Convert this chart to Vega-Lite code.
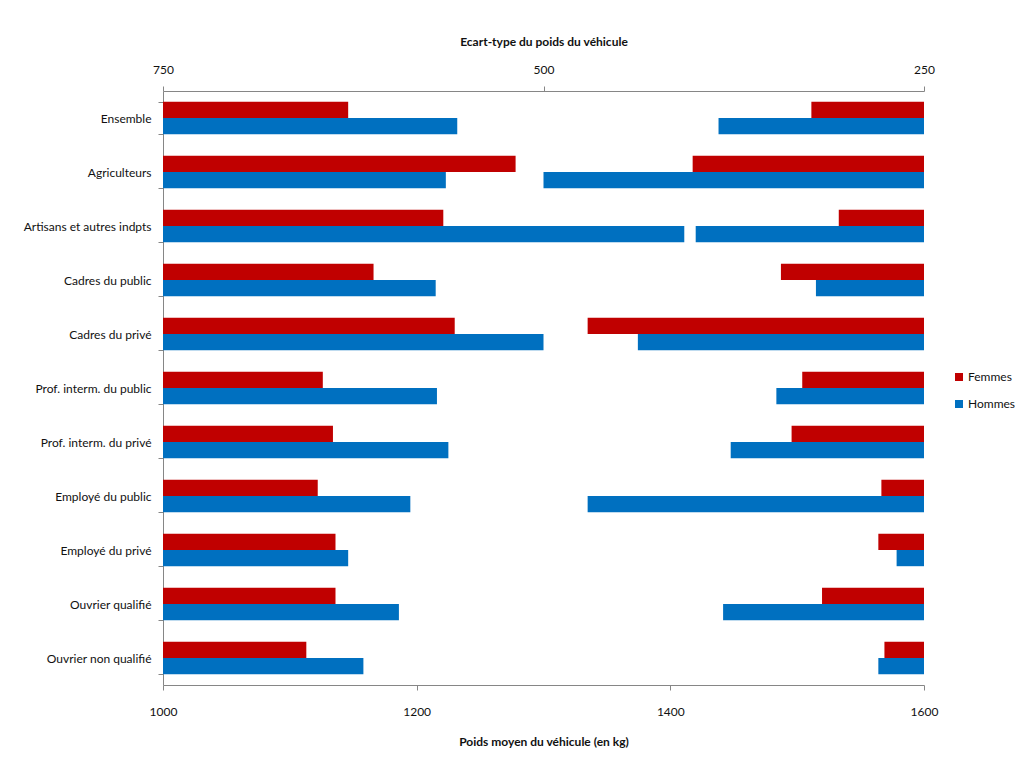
{
  "$schema": "https://vega.github.io/schema/vega-lite/v6.json",
  "width": 761,
  "height": 594,
  "autosize": {"type": "none"},
  "padding": {"left": 163, "top": 91, "right": 91, "bottom": 75},
  "background": "white",
  "config": {
    "view": {"stroke": null},
    "font": "Lato",
    "axis": {
      "domainColor": "#868686",
      "tickColor": "#868686",
      "tickSize": 5,
      "labelColor": "#111111",
      "labelFontSize": 12,
      "labelFont": "Lato",
      "titleFont": "Lato",
      "titleFontSize": 12,
      "titleFontWeight": "bold",
      "titleColor": "#111111",
      "labelFlush": false,
      "labelOverlap": false,
      "labelBound": false,
      "grid": false
    },
    "legend": {"labelFont": "Lato"}
  },
  "data": {
    "values": [
      {"categorie": "Ensemble", "sexe": "Femmes", "moyenne": 1146, "ecart": 324},
      {"categorie": "Ensemble", "sexe": "Hommes", "moyenne": 1232, "ecart": 385},
      {"categorie": "Agriculteurs", "sexe": "Femmes", "moyenne": 1278, "ecart": 402},
      {"categorie": "Agriculteurs", "sexe": "Hommes", "moyenne": 1223, "ecart": 500},
      {"categorie": "Artisans et autres indpts", "sexe": "Femmes", "moyenne": 1221, "ecart": 306},
      {"categorie": "Artisans et autres indpts", "sexe": "Hommes", "moyenne": 1411, "ecart": 400},
      {"categorie": "Cadres du public", "sexe": "Femmes", "moyenne": 1166, "ecart": 344},
      {"categorie": "Cadres du public", "sexe": "Hommes", "moyenne": 1215, "ecart": 321},
      {"categorie": "Cadres du privé", "sexe": "Femmes", "moyenne": 1230, "ecart": 471},
      {"categorie": "Cadres du privé", "sexe": "Hommes", "moyenne": 1300, "ecart": 438},
      {"categorie": "Prof. interm. du public", "sexe": "Femmes", "moyenne": 1126, "ecart": 330},
      {"categorie": "Prof. interm. du public", "sexe": "Hommes", "moyenne": 1216, "ecart": 347},
      {"categorie": "Prof. interm. du privé", "sexe": "Femmes", "moyenne": 1134, "ecart": 337},
      {"categorie": "Prof. interm. du privé", "sexe": "Hommes", "moyenne": 1225, "ecart": 377},
      {"categorie": "Employé du public", "sexe": "Femmes", "moyenne": 1122, "ecart": 278},
      {"categorie": "Employé du public", "sexe": "Hommes", "moyenne": 1195, "ecart": 471},
      {"categorie": "Employé du privé", "sexe": "Femmes", "moyenne": 1136, "ecart": 280},
      {"categorie": "Employé du privé", "sexe": "Hommes", "moyenne": 1146, "ecart": 268},
      {"categorie": "Ouvrier qualifié", "sexe": "Femmes", "moyenne": 1136, "ecart": 317},
      {"categorie": "Ouvrier qualifié", "sexe": "Hommes", "moyenne": 1186, "ecart": 382},
      {"categorie": "Ouvrier non qualifié", "sexe": "Femmes", "moyenne": 1113, "ecart": 276},
      {"categorie": "Ouvrier non qualifié", "sexe": "Hommes", "moyenne": 1158, "ecart": 280}
    ]
  },
  "encoding": {
    "y": {
      "field": "categorie",
      "type": "nominal",
      "sort": ["Ensemble", "Agriculteurs", "Artisans et autres indpts", "Cadres du public", "Cadres du privé", "Prof. interm. du public", "Prof. interm. du privé", "Employé du public", "Employé du privé", "Ouvrier qualifié", "Ouvrier non qualifié"],
      "scale": {"paddingInner": 0.4, "paddingOuter": 0.2},
      "axis": {"title": null, "tickBand": "extent", "labelPadding": 7}
    },
    "yOffset": {"field": "sexe", "type": "nominal", "sort": ["Femmes", "Hommes"]},
    "color": {
      "field": "sexe",
      "type": "nominal",
      "scale": {"domain": ["Femmes", "Hommes"], "range": ["#C00000", "#0070C0"]},
      "legend": {
        "title": null,
        "orient": "none",
        "legendX": 790,
        "legendY": 280,
        "symbolType": "square",
        "symbolSize": 64,
        "symbolStrokeWidth": 0,
        "labelFontSize": 12,
        "labelOffset": 3,
        "labelColor": "#111111",
        "rowPadding": 15
      }
    }
  },
  "layer": [
    {
      "mark": {"type": "bar"},
      "encoding": {
        "x": {
          "field": "moyenne",
          "type": "quantitative",
          "scale": {"domain": [1000, 1600], "zero": false, "nice": false},
          "axis": {"orient": "bottom", "values": [1000, 1200, 1400, 1600], "format": "d", "title": "Poids moyen du véhicule (en kg)", "labelPadding": 16, "titlePadding": 19}
        },
        "x2": {"datum": 1000}
      }
    },
    {
      "mark": {"type": "bar"},
      "encoding": {
        "x": {
          "field": "ecart",
          "type": "quantitative",
          "scale": {"domain": [250, 750], "reverse": true, "zero": false, "nice": false},
          "axis": {"orient": "top", "values": [750, 500, 250], "format": "d", "title": "Ecart-type du poids du véhicule", "labelPadding": 10, "titlePadding": 15}
        },
        "x2": {"datum": 250}
      }
    }
  ],
  "resolve": {"scale": {"x": "independent"}, "axis": {"x": "independent"}}
}
